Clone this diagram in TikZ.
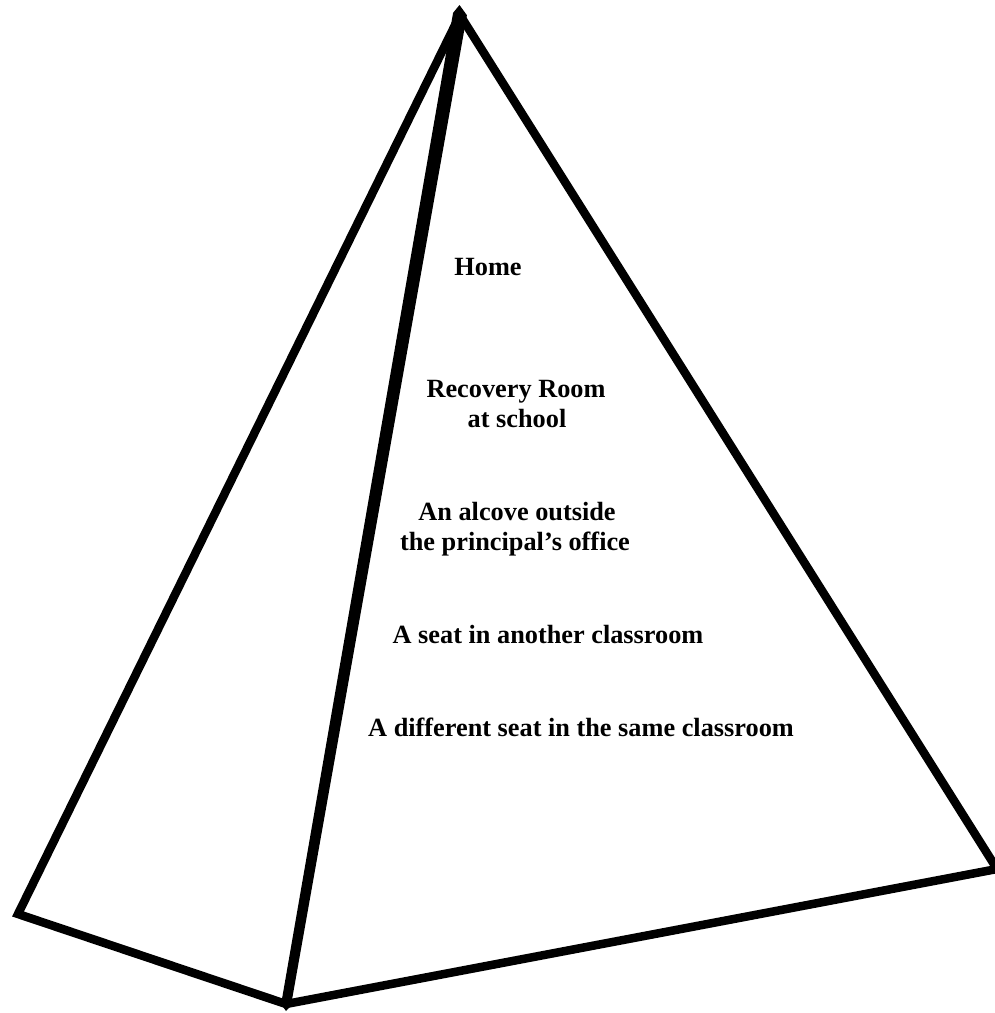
\documentclass[tikz,border=0pt]{standalone}
\usepackage{fontspec}
\setmainfont{Liberation Serif}
\begin{document}
\begin{tikzpicture}[x=1pt,y=-1pt,
  edge/.style={line width=8.5pt,line join=miter,black},
  lbl/.style={anchor=base,inner sep=0pt,font=\fontsize{26.3}{30}\selectfont\bfseries}]
\useasboundingbox (0,0) rectangle (995,1013);
\fill[white] (0,0) rectangle (995,1013);
\coordinate (A) at (460,15);
\coordinate (L) at (18,914);
\coordinate (B) at (286,1004);
\coordinate (R) at (997,869);
% outer outline
\draw[edge] (A) -- (L) -- (B) -- (R) -- cycle;
% inner (front) edge, slightly tapered
\fill[black] (459.5,5) -- (466.9,15.2) -- (290.9,1005.9) -- (286,1011) -- (281.1,1004.1) -- (453.1,12.8) -- cycle;
% labels
\node[lbl] (home) at (488,275) {Home};
\node[lbl] (rec1) at (516,397) {Recovery Room};
\node[lbl] (rec2) at (517,427) {at school};
\node[lbl] (alc1) at (517,520) {An alcove outside};
\node[lbl] (alc2) at (515,550) {the principal’s office};
\node[lbl] (seat) at (548,643) {A seat in another classroom};
\node[lbl] (diff) at (581,736) {A different seat in the same classroom};
\end{tikzpicture}
\end{document}
